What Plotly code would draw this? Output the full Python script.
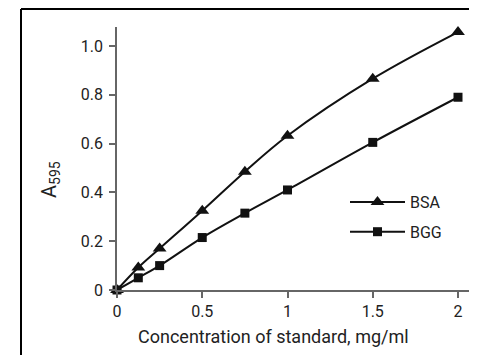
import plotly.graph_objects as go

conc = [0, 0.125, 0.25, 0.5, 0.75, 1.0, 1.5, 2.0]
bsa = [0.0, 0.092, 0.17, 0.325, 0.485, 0.632, 0.866, 1.057]
bgg = [0.0, 0.05, 0.10, 0.215, 0.315, 0.41, 0.605, 0.79]

x_ticks = [0, 0.5, 1, 1.5, 2]
x_ticktext = ["0", "0.5", "1", "1.5", "2"]
y_ticks = [0, 0.2, 0.4, 0.6, 0.8, 1.0]
y_ticktext = ["0", "0.2", "0.4", "0.6", "0.8", "1.0"]

FONT = "Liberation Sans Narrow, Roboto, sans-serif"
INK = "#222222"
AXIS = "#666666"

fig = go.Figure()
fig.add_trace(go.Scatter(
    x=conc, y=bsa, name="BSA", mode="lines+markers", legendgroup="a",
    line=dict(color="#111111", width=2, shape="spline", smoothing=1),
    marker=dict(symbol="triangle-up", size=12, color="#111111"),
    cliponaxis=False,
))
fig.add_trace(go.Scatter(
    x=conc, y=bgg, name="BGG", mode="lines+markers", legendgroup="b",
    line=dict(color="#111111", width=2, shape="spline", smoothing=1),
    marker=dict(symbol="square", size=9, color="#111111"),
    cliponaxis=False,
))

OFF = 8  # page body offset of the figure
W, H = 477 - OFF, 355 - OFF
L, T = 117 - OFF, 27 - OFF
R = W - (474 - OFF)
B = H - (290 - OFF)
pw, ph = W - L - R, H - T - B

def px(xs):
    """screen x pixel -> paper coordinate"""
    return (xs - OFF - L) / pw

def py(ys):
    """screen y pixel -> paper coordinate"""
    return (H - B - (ys - OFF)) / ph

fig.update_layout(
    width=W, height=H,
    margin=dict(l=L, r=R, t=T, b=B, pad=0),
    paper_bgcolor="white", plot_bgcolor="white",
    font=dict(family=FONT, size=16, color=INK),
    showlegend=True,
    legend=dict(
        x=px(345), y=py(185), xanchor="left", yanchor="top",
        bgcolor="rgba(0,0,0,0)", font=dict(size=16, color=INK),
        tracegroupgap=6, itemwidth=55,
    ),
    xaxis=dict(
        range=[0, pw / 170.5], showgrid=False, zeroline=False,
        showline=True, linecolor=AXIS, linewidth=1.5,
        ticks="outside", ticklen=6, tickcolor=AXIS, tickwidth=1.5,
        tickvals=x_ticks, ticktext=x_ticktext,
        tickfont=dict(size=16, color=INK),
    ),
    yaxis=dict(
        range=[0, ph / 244.0], showgrid=False, zeroline=False,
        showline=True, linecolor=AXIS, linewidth=1.5,
        ticks="outside", ticklen=6, tickcolor=AXIS, tickwidth=1.5,
        tickvals=y_ticks, ticktext=y_ticktext,
        tickfont=dict(size=16, color=INK), ticklabelstandoff=3,
    ),
    annotations=[
        dict(text="Concentration of standard, mg/ml", xref="paper", yref="paper",
             x=px(273), y=py(336), xanchor="center", yanchor="middle",
             showarrow=False, font=dict(size=18, color=INK)),
        dict(text="A<sub>595</sub>", xref="paper", yref="paper",
             x=px(50), y=py(180), xanchor="center", yanchor="middle",
             textangle=-90, showarrow=False, font=dict(size=20, color=INK)),
    ],
    shapes=[
        dict(type="line", xref="paper", yref="paper",
             x0=px(21), x1=px(21), y0=py(9), y1=py(360),
             line=dict(color="black", width=2)),
        dict(type="line", xref="paper", yref="paper",
             x0=px(21), x1=px(480), y0=py(9), y1=py(9),
             line=dict(color="black", width=2)),
    ],
)

fig.write_html("out.html")
